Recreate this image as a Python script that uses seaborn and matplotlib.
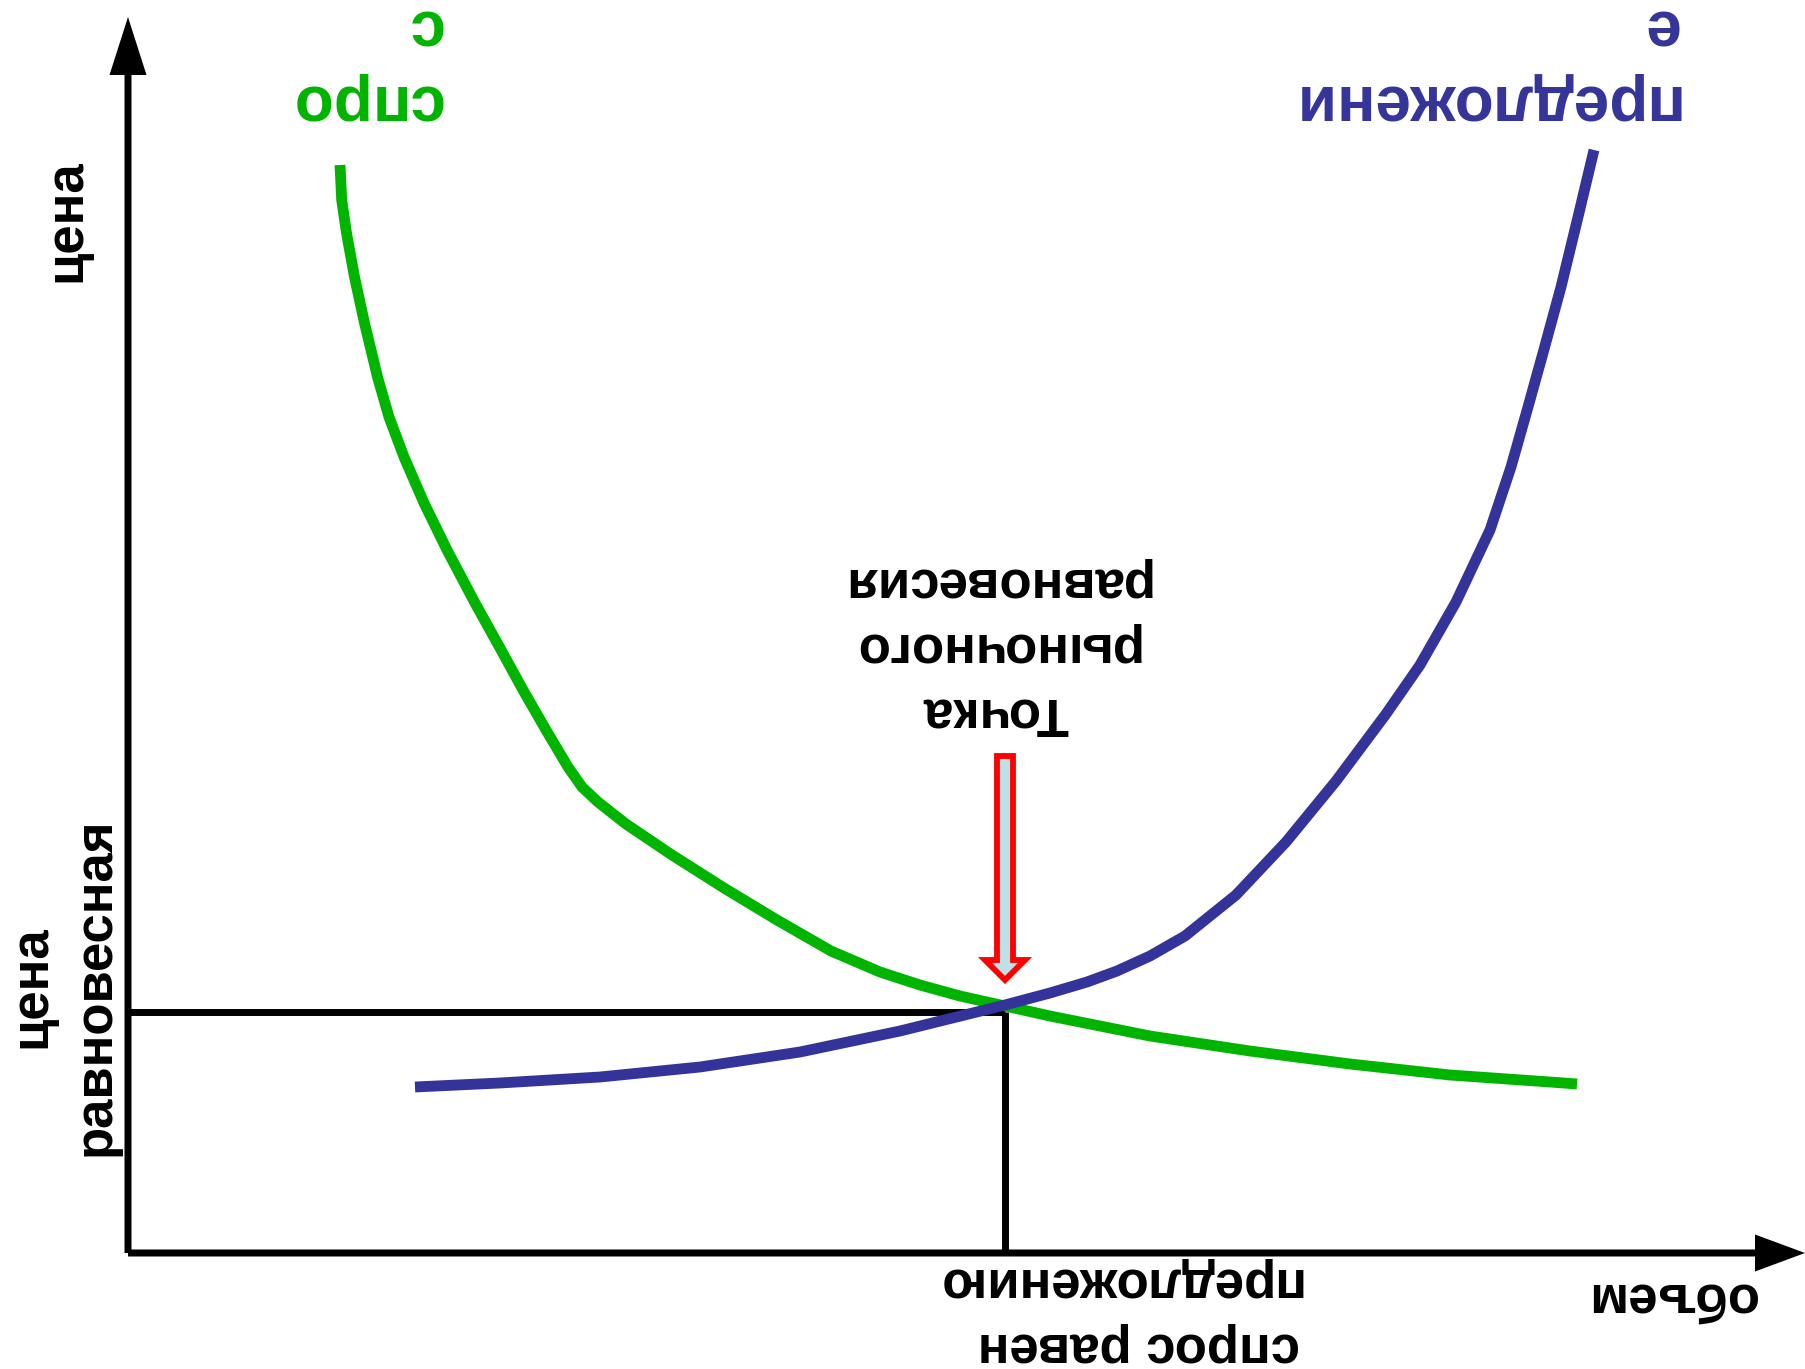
import matplotlib
matplotlib.use("Agg")
import matplotlib.pyplot as plt
from matplotlib.patches import FancyArrow
import seaborn as sns
import pandas as pd

# ---- data (quantity / price units) ----
demand_q = [21.2, 21.37, 21.85, 22.65, 23.65, 24.95, 26.1, 27.6, 29.6, 31.9, 34.7, 37.2,
            39.5, 41.8, 44.0, 45.4, 47.0, 49.8, 54.4, 59.6, 64.9, 70.3, 75.2, 79.2, 83.2,
            87.7, 92.2, 97.2, 102.2, 112.2, 122.2, 132.2, 142.2, 144.9]
demand_p = [108.8, 105.3, 102.0, 97.6, 93.0, 87.6, 83.6, 79.6, 75.0, 70.3, 65.0, 60.5,
            56.3, 52.3, 48.6, 46.6, 45.1, 42.9, 39.8, 36.5, 33.3, 30.2, 28.1, 26.8, 25.7,
            24.7, 23.7, 22.7, 21.7, 20.2, 18.9, 17.8, 17.1, 16.9]

supply_q = [28.7, 37.2, 47.2, 57.2, 67.2, 77.2, 87.7, 92.2, 95.9, 98.9, 102.2, 105.7,
            110.8, 115.8, 120.8, 125.8, 129.2, 132.8, 136.2, 138.3, 140.0, 141.5, 143.3,
            145.0, 146.6]
supply_p = [16.6, 17.0, 17.6, 18.6, 20.1, 22.2, 24.8, 26.0, 27.1, 28.2, 29.7, 31.7,
            35.8, 41.1, 47.2, 53.9, 58.8, 65.1, 72.3, 78.6, 84.6, 90.0, 96.6, 103.6, 110.3]

eq_q = [87.7]           # equilibrium quantity
eq_p = [24.1]           # equilibrium price
axis_end = [167.7, 123.6]   # x-axis tip, y-axis tip

label_demand = "спро\nс"
label_supply = "предложени\nе"
label_point = "Точка\nрыночного\nравновесия"
label_price = "цена"
label_eq_price = "цена\nравновесная"
label_eq_qty = "спрос равен\nпредложению"
label_volume = "объем"

# ---- style ----
sns.set_theme(style="white")
plt.rcParams["font.family"] = ["Liberation Sans", "DejaVu Sans"]
plt.rcParams["font.weight"] = "bold"

GREEN = "#00b400"
BLUE = "#333399"

fig = plt.figure(figsize=(18.05, 13.69), dpi=100)
ax = fig.add_axes([0, 0, 1, 1])
ax.set_xlim(-12.8, 167.7)
ax.set_ylim(-11.6, 125.3)
ax.axis("off")

df_d = pd.DataFrame({"q": demand_q, "p": demand_p})
df_s = pd.DataFrame({"q": supply_q, "p": supply_p})

# equilibrium guides
ax.plot([0, eq_q[0]], [eq_p[0], eq_p[0]], color="black", lw=5, solid_capstyle="butt", zorder=2)
ax.plot([eq_q[0], eq_q[0]], [eq_p[0], 0], color="black", lw=5, solid_capstyle="butt", zorder=2)

# curves
sns.lineplot(data=df_d, x="q", y="p", sort=False, estimator=None, color=GREEN, lw=7.8,
             ax=ax, zorder=3, solid_capstyle="butt", solid_joinstyle="round")
sns.lineplot(data=df_s, x="q", y="p", sort=False, estimator=None, color=BLUE, lw=7.8,
             ax=ax, zorder=4, solid_capstyle="butt", solid_joinstyle="round")

# axes with arrows
ax.add_patch(FancyArrow(0, 0, axis_end[0], 0, width=0.7, head_width=3.7, head_length=5.0,
                        length_includes_head=True, color="black", lw=0, zorder=5))
ax.add_patch(FancyArrow(0, 0, 0, axis_end[1], width=0.7, head_width=3.7, head_length=5.8,
                        length_includes_head=True, color="black", lw=0, zorder=5))

# pointer arrow to the equilibrium
ax.add_patch(FancyArrow(eq_q[0], 49.7, 0, 27.3 - 49.7, width=1.6, head_width=4.0,
                        head_length=2.0, length_includes_head=True, facecolor="#bfe0e4",
                        edgecolor="#ff0000", lw=4.2, joinstyle="miter", zorder=6))

# labels (rotated as in the picture)
big = 46
mid = 38
ax.text(31.3, 112.1, label_demand, color=GREEN, fontsize=big, fontweight="bold",
        rotation=180, rotation_mode="anchor", ha="left", va="top",
        multialignment="left", linespacing=1.33)
ax.text(154.9, 112.1, label_supply, color=BLUE, fontsize=big, fontweight="bold",
        rotation=180, rotation_mode="anchor", ha="left", va="top",
        multialignment="left", linespacing=1.33)
ax.text(86.7, 51.6, label_point, color="black", fontsize=mid, fontweight="bold",
        rotation=180, rotation_mode="anchor", ha="center", va="top",
        multialignment="center", linespacing=1.38)
ax.text(117.2, -11.85, label_eq_qty, color="black", fontsize=mid, fontweight="bold",
        rotation=180, rotation_mode="anchor", ha="left", va="top",
        multialignment="left", linespacing=1.38)
ax.text(162.8, -3.0, label_volume, color="black", fontsize=mid, fontweight="bold",
        rotation=180, rotation_mode="anchor", ha="left", va="baseline")
ax.text(-4.8, 103.2, label_price, color="black", fontsize=mid, fontweight="bold",
        rotation=90, rotation_mode="anchor", ha="center", va="baseline")
ax.text(-12.2, 26.6, label_eq_price, color="black", fontsize=mid, fontweight="bold",
        rotation=90, rotation_mode="anchor", ha="center", va="top",
        multialignment="center", linespacing=1.38)

fig.savefig("out.png", dpi=100, facecolor="white")
